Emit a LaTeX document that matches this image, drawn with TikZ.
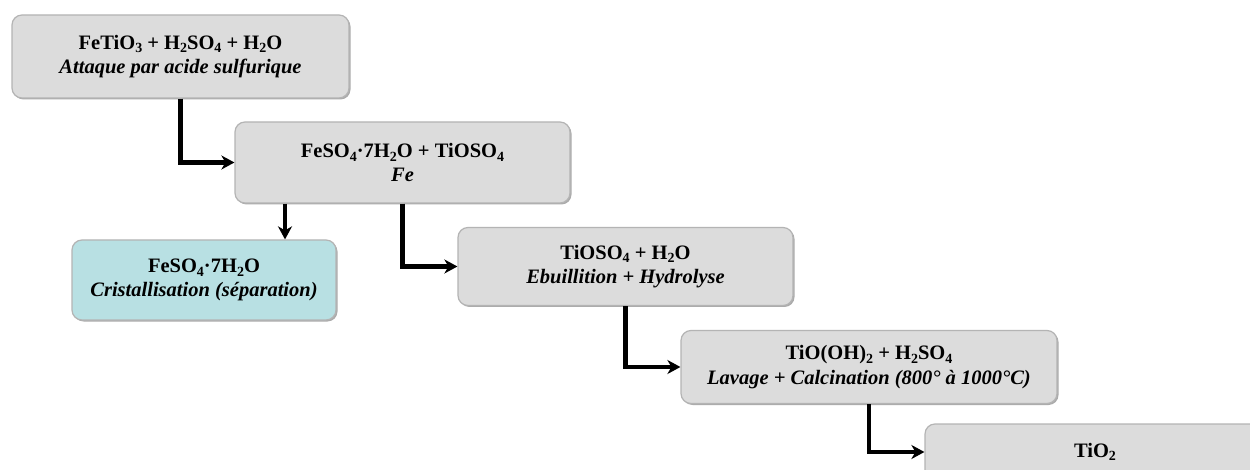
\documentclass[tikz,border=0pt]{standalone}
\usepackage{fontspec}
\setmainfont{Liberation Serif}
\usetikzlibrary{shadows,arrows.meta}
\definecolor{boxgray}{HTML}{DCDCDC}
\definecolor{boxcyan}{HTML}{B8E0E3}
\definecolor{edgegray}{HTML}{B4B4B4}
\newcommand\subs[1]{\raisebox{-0.4ex}{\fontsize{14}{14}\selectfont #1}}
\tikzset{
  box/.style={draw=edgegray, line width=1.2pt, fill=boxgray, rounded corners=10pt,
    align=center, inner sep=0pt,
    font=\fontsize{20.5}{24.5}\selectfont\bfseries,
    drop shadow={shadow xshift=1.5pt, shadow yshift=-1.5pt, fill=black!55, opacity=0.6}},
  arr/.style={line width=4.5pt, -{Stealth[length=13pt,width=14pt,inset=4pt]}}
}
\begin{document}
\begin{tikzpicture}[x=1pt,y=-1pt]
\useasboundingbox (0,0) rectangle (1250,470);
\clip (0,0) rectangle (1250,470);
\fill[white] (0,0) rectangle (1250,470);
\node[box, minimum width=337pt, minimum height=83pt] (B1) at (180.5,56.5)
  {FeTiO\subs{3} + H\subs{2}SO\subs{4} + H\subs{2}O\\ \itshape Attaque par acide sulfurique};
\node[box, minimum width=335pt, minimum height=81pt] (B2) at (402.5,162.5)
  {FeSO\subs{4}·7H\subs{2}O + TiOSO\subs{4}\\ \itshape Fe};
\node[box, fill=boxcyan, minimum width=264pt, minimum height=80pt] (B3) at (204,280)
  {FeSO\subs{4}·7H\subs{2}O\\ \itshape Cristallisation (séparation)};
\node[box, minimum width=335pt, minimum height=78pt] (B4) at (625.5,266.5)
  {TiOSO\subs{4} + H\subs{2}O\\ \itshape Ebuillition + Hydrolyse};
\node[box, minimum width=376pt, minimum height=73pt] (B5) at (869,367)
  {TiO(OH)\subs{2} + H\subs{2}SO\subs{4}\\ \itshape Lavage + Calcination (800° à 1000°C)};
\node[box, minimum width=340pt, minimum height=56pt] (B6) at (1095,452)
  {TiO\subs{2}};
\coordinate (c3) at (285,240);
\draw[arr] (B1.south) |- (B2.west);
\draw[arr] (B2.south -| c3) -- (B3.north -| c3);
\draw[arr] (B2.south) |- (B4.west);
\draw[arr] (B4.south) |- (B5.west);
\draw[arr] (B5.south) |- (B6.west);
\end{tikzpicture}
\end{document}
